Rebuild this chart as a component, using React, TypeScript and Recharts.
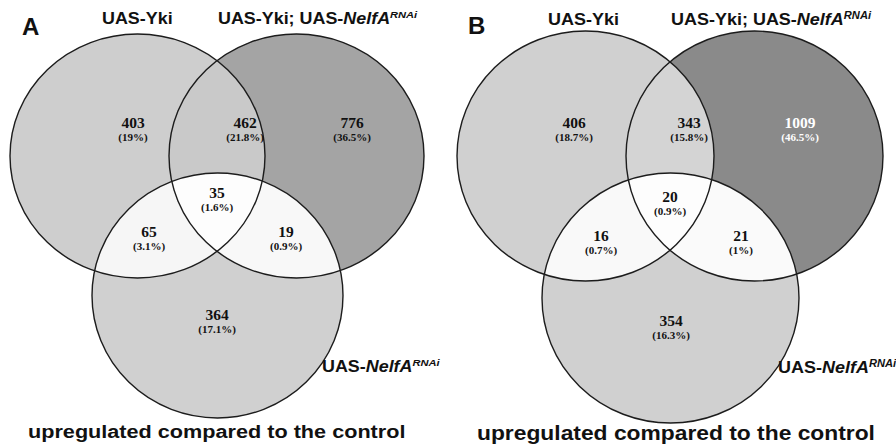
import React from 'react';
import { ScatterChart, Scatter, XAxis, YAxis } from 'recharts';

// region order: Yki only, Yki;NelfA only, NelfA only, Yki & Yki;NelfA, Yki & NelfA, Yki;NelfA & NelfA, all three
const countsA = [403, 776, 364, 462, 65, 19, 35];
const percentsA = ['19%', '36.5%', '17.1%', '21.8%', '3.1%', '0.9%', '1.6%'];
const countsB = [406, 1009, 354, 343, 16, 21, 20];
const percentsB = ['18.7%', '46.5%', '16.3%', '15.8%', '0.7%', '1%', '0.9%'];
const setNames = ['UAS-Yki', 'UAS-Yki; UAS-', 'UAS-'];
const caption = 'upregulated compared to the control';

const PANEL_W = 448;
const PANEL_H = 444;
const X_DOMAIN = [0, PANEL_W];
const Y_DOMAIN = [0, PANEL_H];
const SX = PANEL_W / (X_DOMAIN[1] - X_DOMAIN[0]);
const SY = PANEL_H / (Y_DOMAIN[1] - Y_DOMAIN[0]);

const SANS = '"Liberation Sans", Arial, sans-serif';
const SERIF = '"Liberation Serif", "Times New Roman", serif';

type Circle = { x: number; y: number; rx: number; ry: number };
type Layout = {
  id: string;
  letter: string;
  circles: Circle[];
  fills: string[]; // per region
  labels: [number, number][];
  letterPos: [number, number];
  setPos: [number, number][];
  setSize: number;
  setStretch: number;
  captionPos: [number, number];
  captionSize: number;
  captionStretch: number;
};

const layoutA: Layout = {
  id: 'A',
  letter: 'A',
  circles: [
    { x: 137.5, y: 156, rx: 127.5, ry: 122 },
    { x: 296.5, y: 156, rx: 127.5, ry: 122 },
    { x: 217.5, y: 295.5, rx: 125.5, ry: 122.5 },
  ],
  fills: ['#cecece', '#a4a4a4', '#d0d0d0', '#c9c9c9', '#f6f6f6', '#f8f8f8', '#fdfdfd'],
  labels: [[133, 128], [352, 128], [217, 320], [245, 128], [149, 237], [286, 237], [217, 198]],
  letterPos: [22, 35],
  setPos: [[102, 24], [218, 24], [322, 372]],
  setSize: 16,
  setStretch: 1.12,
  captionPos: [28, 438],
  captionSize: 18.5,
  captionStretch: 1.17,
};

const layoutB: Layout = {
  id: 'B',
  letter: 'B',
  circles: [
    { x: 137.5, y: 156, rx: 128.5, ry: 125 },
    { x: 306.5, y: 156, rx: 128.5, ry: 125 },
    { x: 222.5, y: 298, rx: 128.5, ry: 125 },
  ],
  fills: ['#d0d0d0', '#8a8a8a', '#d0d0d0', '#d4d4d4', '#f9f9f9', '#fafafa', '#fdfdfd'],
  labels: [[126, 128], [352, 128], [223, 326], [241, 128], [153, 241], [293, 241], [222, 202]],
  letterPos: [20, 34],
  setPos: [[100, 25], [223, 25], [330, 373]],
  setSize: 16.2,
  setStretch: 1.11,
  captionPos: [29, 440],
  captionSize: 19.5,
  captionStretch: 1.17,
};

const isDark = (hex: string) => parseInt(hex.slice(1, 3), 16) < 0x99;

function VennPanel({ layout, counts, percents }: { layout: Layout; counts: number[]; percents: string[] }) {
  const { id, circles, fills } = layout;
  const clipId = (i: number) => `${id}-clip-${i}`;

  const baseData = circles.map((c, i) => ({ ...c, i, fill: fills[i] }));
  const overlapData = [
    { ...circles[1], clips: [0], fill: fills[3] },
    { ...circles[2], clips: [0], fill: fills[4] },
    { ...circles[2], clips: [1], fill: fills[5] },
    { ...circles[2], clips: [0, 1], fill: fills[6] },
  ];
  const labelData = counts.map((n, i) => ({
    x: layout.labels[i][0],
    y: layout.labels[i][1],
    count: n,
    pct: percents[i],
    color: isDark(fills[i]) ? '#ffffff' : '#111111',
  }));
  const textData = [
    { x: layout.letterPos[0], y: layout.letterPos[1], kind: 'letter' },
    { x: layout.setPos[0][0], y: layout.setPos[0][1], kind: 'set0' },
    { x: layout.setPos[1][0], y: layout.setPos[1][1], kind: 'set1' },
    { x: layout.setPos[2][0], y: layout.setPos[2][1], kind: 'set2' },
    { x: layout.captionPos[0], y: layout.captionPos[1], kind: 'caption' },
  ];

  const baseShape = (p: any) => {
    const rx = p.payload.rx * SX;
    const ry = p.payload.ry * SY;
    return (
      <g>
        <defs>
          <clipPath id={clipId(p.payload.i)}>
            <ellipse cx={p.cx} cy={p.cy} rx={rx} ry={ry} />
          </clipPath>
        </defs>
        <ellipse cx={p.cx} cy={p.cy} rx={rx} ry={ry} fill={p.payload.fill} />
      </g>
    );
  };

  const overlapShape = (p: any) => {
    let node = <ellipse cx={p.cx} cy={p.cy} rx={p.payload.rx * SX} ry={p.payload.ry * SY} fill={p.payload.fill} />;
    p.payload.clips.forEach((c: number) => {
      node = <g clipPath={`url(#${clipId(c)})`}>{node}</g>;
    });
    return node;
  };

  const outlineShape = (p: any) => (
    <ellipse
      cx={p.cx}
      cy={p.cy}
      rx={p.payload.rx * SX}
      ry={p.payload.ry * SY}
      fill="none"
      stroke="#1c1c1c"
      strokeWidth={1.4}
    />
  );

  const labelShape = (p: any) => (
    <g fontFamily={SERIF} fontWeight="bold" textAnchor="middle" fill={p.payload.color}>
      <text x={p.cx} y={p.cy} fontSize={15.5}>{p.payload.count}</text>
      <text x={p.cx} y={p.cy + 13} fontSize={11}>({p.payload.pct})</text>
    </g>
  );

  const textShape = (p: any) => {
    const k = p.payload.kind;
    const sup = (
      <>
        <tspan fontStyle="italic">NelfA</tspan>
        <tspan fontStyle="italic" fontSize={layout.setSize * 0.62} dy={-layout.setSize * 0.38}>RNAi</tspan>
      </>
    );
    if (k === 'letter')
      return <text x={p.cx} y={p.cy} fontFamily={SANS} fontWeight="bold" fontSize={24} fill="#111">{layout.letter}</text>;
    if (k === 'caption')
      return (
        <text
          transform={`translate(${p.cx},${p.cy}) scale(${layout.captionStretch},1)`}
          fontFamily={SANS}
          fontWeight="bold"
          fontSize={layout.captionSize}
          fill="#111"
        >
          {caption}
        </text>
      );
    const idx = Number(k.slice(3));
    return (
      <text
        transform={`translate(${p.cx},${p.cy}) scale(${layout.setStretch},1)`}
        fontFamily={SANS}
        fontWeight="bold"
        fontSize={layout.setSize}
        fill="#111"
      >
        <tspan>{setNames[idx]}</tspan>
        {idx > 0 ? sup : null}
      </text>
    );
  };

  return (
    <ScatterChart width={PANEL_W} height={PANEL_H} margin={{ top: 0, right: 0, bottom: 0, left: 0 }}>
      <XAxis type="number" dataKey="x" domain={X_DOMAIN} hide height={0} />
      <YAxis type="number" dataKey="y" domain={Y_DOMAIN} hide reversed width={0} />
      <Scatter data={baseData} shape={baseShape} isAnimationActive={false} />
      <Scatter data={overlapData} shape={overlapShape} isAnimationActive={false} />
      <Scatter data={baseData} shape={outlineShape} isAnimationActive={false} />
      <Scatter data={labelData} shape={labelShape} isAnimationActive={false} />
      <Scatter data={textData} shape={textShape} isAnimationActive={false} />
    </ScatterChart>
  );
}

export default function App() {
  return (
    <div style={{ position: 'absolute', left: 0, top: 0, width: 896, height: 444, display: 'flex', background: '#fff', overflow: 'hidden' }}>
      <VennPanel layout={layoutA} counts={countsA} percents={percentsA} />
      <VennPanel layout={layoutB} counts={countsB} percents={percentsB} />
    </div>
  );
}
